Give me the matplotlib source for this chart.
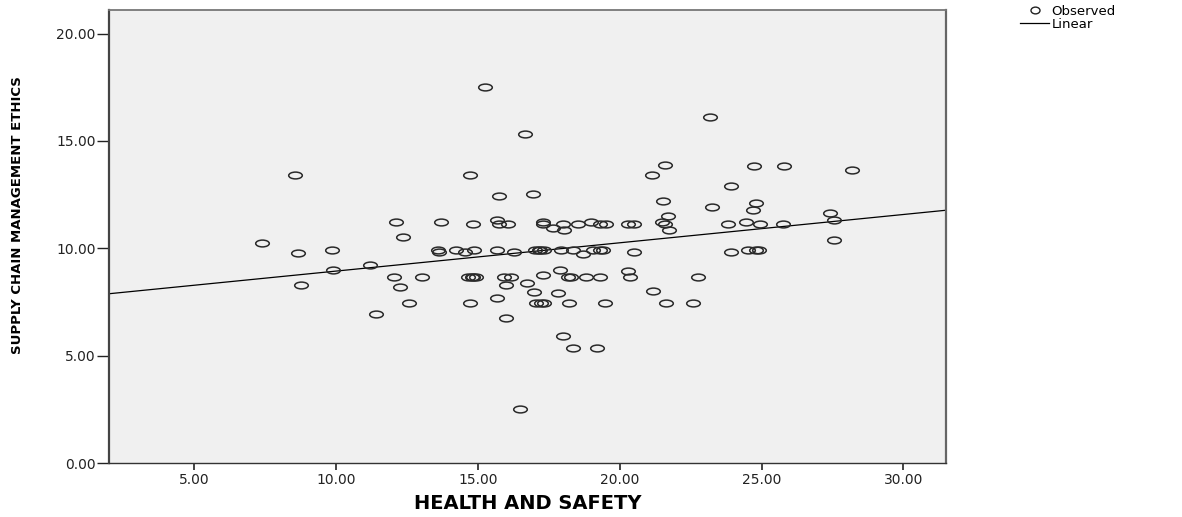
#
# Scatter of supply chain management ethics against health and safety
#

import matplotlib
matplotlib.use("Agg")
import matplotlib.pyplot as plt
from matplotlib.lines import Line2D
from matplotlib.path import Path
from matplotlib.transforms import Affine2D
import numpy as np

# values
health_safety = [
    7.40, 8.54, 8.65, 8.76, 9.87, 9.91, 11.20, 11.40, 12.10, 12.35,
    12.05, 12.25, 12.57, 13.04, 13.59, 13.62, 13.71, 14.24, 14.56, 14.65,
    14.82, 14.94, 14.73, 14.72, 14.82, 14.88, 15.25, 15.67, 15.74, 15.74,
    15.67, 15.67, 15.94, 16.00, 16.00, 16.06, 16.18, 16.29, 16.49, 16.68,
    16.74, 16.95, 16.97, 17.00, 17.17, 17.35, 17.06, 17.23, 17.35, 17.29,
    17.29, 17.29, 17.64, 17.82, 17.88, 17.94, 18.00, 18.05, 17.99, 18.17,
    18.29, 18.23, 18.35, 18.35, 18.52, 18.70, 18.82, 19.00, 19.05, 19.19,
    19.29, 19.29, 19.29, 19.40, 19.50, 19.52, 20.29, 20.52, 20.29, 20.35,
    20.49, 21.15, 21.19, 21.50, 21.58, 21.52, 21.61, 21.71, 21.75, 21.64,
    22.58, 22.77, 23.20, 23.26, 23.81, 23.94, 23.93, 24.46, 24.52, 24.69,
    24.72, 24.81, 24.81, 24.93, 25.77, 25.78, 27.40, 27.57, 27.57, 28.18,
    24.90, 17.20, 14.80,
]
supply_chain_ethics = [
    10.27, 13.43, 9.77, 8.31, 9.94, 8.97, 9.24, 6.96, 11.22, 10.53,
    8.66, 8.20, 7.47, 8.66, 9.91, 9.85, 11.22, 9.91, 9.83, 8.66,
    8.66, 8.66, 7.47, 13.41, 11.13, 9.91, 17.51, 11.32, 11.13, 12.42,
    9.91, 7.69, 8.66, 8.31, 6.75, 11.13, 8.66, 9.83, 2.52, 15.31,
    8.37, 12.55, 7.95, 9.91, 9.91, 9.91, 7.47, 7.47, 7.47, 11.22,
    11.13, 8.74, 10.95, 7.94, 9.00, 9.91, 11.13, 10.84, 5.90, 8.66,
    8.66, 7.47, 9.91, 5.36, 11.13, 9.75, 8.66, 11.22, 9.91, 5.36,
    11.13, 9.91, 8.66, 9.91, 7.47, 11.13, 11.13, 11.13, 8.94, 8.66,
    9.83, 13.43, 8.03, 11.22, 11.13, 12.22, 13.90, 11.49, 10.84, 7.47,
    7.47, 8.66, 16.10, 11.94, 11.13, 12.92, 9.84, 11.22, 9.91, 11.77,
    13.83, 12.13, 9.91, 11.13, 11.13, 13.83, 11.64, 11.34, 10.40, 13.66,
    9.91, 9.91, 8.66,
]

x_ticks = [5, 10, 15, 20, 25, 30]
y_ticks = [0, 5, 10, 15, 20]


def make_plot():
    fig = plt.figure(figsize=(11.82, 5.17), dpi=100)
    ax = fig.add_axes([0.0922, 0.1044, 0.7081, 0.8763])
    ax.set_facecolor("#f0f0f0")

    # flattened open circle, as drawn by SPSS
    ellipse = Path.unit_circle().transformed(Affine2D().scale(1.0, 0.5))

    x = np.array(health_safety)
    y = np.array(supply_chain_ethics)
    ax.plot(x, y, linestyle="none", marker=ellipse, markersize=9.8,
            markerfacecolor="none", markeredgecolor="#2a2a2a",
            markeredgewidth=1.1, zorder=3)

    # least squares line
    slope, intercept = np.polyfit(x, y, 1)
    xs = np.array([2.0, 31.5])
    ax.plot(xs, intercept + slope * xs, color="black", lw=0.9, zorder=2)

    ax.set_xlim(2.0, 31.5)
    ax.set_ylim(0, 21.1)
    ax.set_xticks(x_ticks)
    ax.set_xticklabels([f"{v:.2f}" for v in x_ticks])
    ax.set_yticks(y_ticks)
    ax.set_yticklabels([f"{v:.2f}" for v in y_ticks])

    ax.tick_params(axis="x", direction="out", length=5, width=1.2,
                   pad=2, labelsize=10, colors="#222222")
    ax.tick_params(axis="y", direction="out", length=8.5, width=1.0,
                   pad=1, labelsize=10, colors="#222222")

    ax.spines["left"].set_linewidth(1.6)
    ax.spines["left"].set_color("#444444")
    ax.spines["right"].set_linewidth(1.6)
    ax.spines["right"].set_color("#666666")
    ax.spines["top"].set_linewidth(1.3)
    ax.spines["top"].set_color("#777777")
    ax.spines["bottom"].set_linewidth(1.0)
    ax.spines["bottom"].set_color("#333333")

    ax.set_xlabel("HEALTH AND SAFETY", fontsize=14, fontweight="bold")
    ax.xaxis.set_label_coords(0.5, -0.068)
    ax.set_ylabel("SUPPLY CHAIN MANAGEMENT ETHICS", fontsize=9.5,
                  fontweight="bold")
    ax.yaxis.set_label_coords(-0.1016, 0.547)

    legend_marker = Path.unit_circle().transformed(Affine2D().scale(1.0, 0.75))
    handles = [
        Line2D([], [], linestyle="none", marker=legend_marker, markersize=6.5,
               markerfacecolor="none", markeredgecolor="#222222",
               markeredgewidth=1.0),
        Line2D([], [], color="black", lw=0.9),
    ]
    fig.legend(handles, ["Observed", "Linear"], loc="upper left",
               bbox_to_anchor=(1020 / 1182, 1 - 5 / 517), frameon=False,
               fontsize=9.5, handlelength=2.2, handletextpad=0.2,
               labelspacing=0.0, borderaxespad=0, borderpad=0)

    fig.savefig("out.png", dpi=100)


if __name__ == "__main__":
    make_plot()
